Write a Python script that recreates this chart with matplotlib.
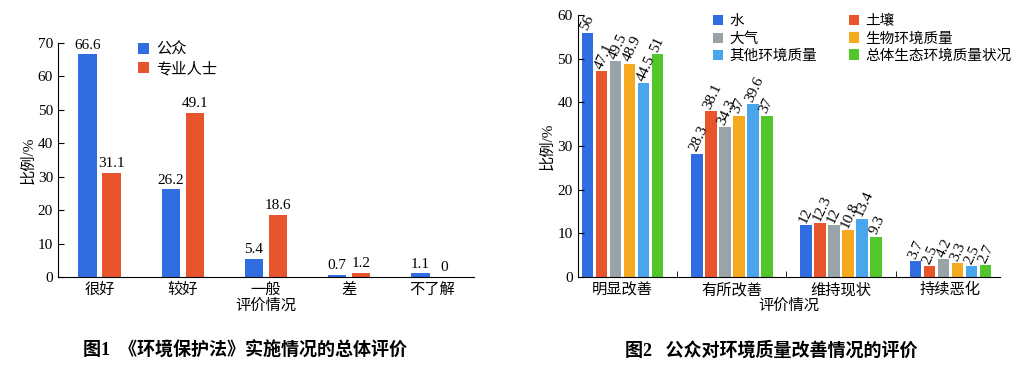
import matplotlib.pyplot as plt
import numpy as np

plt.rcParams['font.family'] = ['Liberation Serif', 'Noto Sans CJK SC']
plt.rcParams['font.size'] = 10

# Figure 1 data
cats1 = ['很好', '较好', '一般', '差', '不了解']
public = [66.6, 26.2, 5.4, 0.7, 1.1]
experts = [31.1, 49.1, 18.6, 1.2, 0]

# Figure 2 data
cats2 = ['明显改善', '有所改善', '维持现状', '持续恶化']
series_names = ['水', '土壤', '大气', '生物环境质量', '其他环境质量', '总体生态环境质量状况']
water = [56, 28.3, 12, 3.7]
soil = [47.1, 38.1, 12.3, 2.5]
air = [49.5, 34.3, 12, 4.2]
bio = [48.9, 37, 10.8, 3.3]
other = [44.5, 39.6, 13.4, 2.5]
overall = [51, 37, 9.3, 2.7]
series2 = [water, soil, air, bio, other, overall]
colors2 = ['#2f6de0', '#e8542c', '#98a4a8', '#f5a91e', '#4aa6ec', '#52c72c']

fig = plt.figure(figsize=(10.35, 3.7), dpi=100)

# ---- left chart ----
ax1 = fig.add_axes([0.056, 0.251, 0.402, 0.633])
x1 = np.arange(len(cats1))
w1 = 0.22
b1 = ax1.bar(x1 - 0.145, public, w1, color='#2f6de0', label='公众')
b2 = ax1.bar(x1 + 0.145, experts, w1, color='#e8542c', label='专业人士')
for bars, vals in [(b1, public), (b2, experts)]:
    for rect, v in zip(bars, vals):
        ax1.text(rect.get_x() + rect.get_width() / 2, v + 0.8, f'{v:g}',
                 ha='center', va='bottom', fontsize=11)
ax1.set_xlim(-0.5, 4.5)
ax1.set_ylim(0, 70)
ax1.set_yticks(range(0, 71, 10))
ax1.set_xticks(x1)
ax1.set_xticklabels(cats1, fontsize=11)
ax1.tick_params(axis='x', length=0, pad=4)
ax1.tick_params(axis='y', direction='in', length=4, labelsize=11)
ax1.spines[['top', 'right']].set_visible(False)
ax1.set_ylabel('比例/%', fontsize=11, labelpad=2)
ax1.set_xlabel('评价情况', fontsize=11, labelpad=1)
ax1.legend(loc='upper left', bbox_to_anchor=(0.16, 1.06), frameon=False,
           handlelength=0.7, handleheight=0.7, handletextpad=0.5,
           labelspacing=0.3, fontsize=11)

# ---- right chart ----
ax2 = fig.add_axes([0.558, 0.251, 0.408, 0.708])
x2 = np.arange(len(cats2))
w2 = 0.105
pitch = 0.128
handles = []
for i, (vals, c, name) in enumerate(zip(series2, colors2, series_names)):
    off = (i - 2.5) * pitch
    bars = ax2.bar(x2 + off, vals, w2, color=c, label=name)
    handles.append(bars)
    for rect, v in zip(bars, vals):
        ax2.text(rect.get_x() + rect.get_width() / 2 - 0.03, v + 0.6, f'{v:g}',
                 ha='left', va='center', rotation=65, rotation_mode='anchor',
                 fontsize=11)
ax2.set_xlim(-0.41, 3.45)
ax2.set_ylim(0, 60)
ax2.set_yticks(range(0, 61, 10))
ax2.set_xticks(x2)
ax2.set_xticklabels(cats2, fontsize=11)
ax2.set_xticks([0.5, 1.5, 2.5], minor=True)
ax2.tick_params(axis='x', which='major', length=0, pad=4)
ax2.tick_params(axis='x', which='minor', direction='in', length=4)
ax2.tick_params(axis='y', direction='in', length=4, labelsize=11)
ax2.spines[['top', 'right']].set_visible(False)
ax2.set_ylabel('比例/%', fontsize=11, labelpad=2)
ax2.set_xlabel('评价情况', fontsize=11, labelpad=1)
order = [0, 2, 4, 1, 3, 5]
ax2.legend([handles[k] for k in order], [series_names[k] for k in order],
           loc='upper left', bbox_to_anchor=(0.29, 1.05), ncol=2, frameon=False,
           handlelength=0.7, handleheight=0.7, handletextpad=0.4,
           labelspacing=0.25, columnspacing=2.2, fontsize=10.5)

fig.text(0.237, 0.04, '图1  《环境保护法》实施情况的总体评价', ha='center',
         fontsize=13, weight='bold')
fig.text(0.745, 0.04, '图2   公众对环境质量改善情况的评价', ha='center',
         fontsize=13, weight='bold')

fig.savefig('out.png', dpi=100)
